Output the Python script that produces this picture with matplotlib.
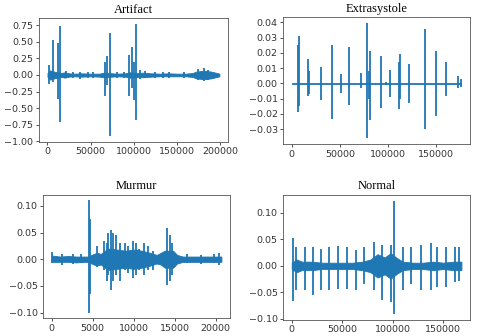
import matplotlib.pyplot as plt
from matplotlib.ticker import MultipleLocator

# Artifact: noise envelope + spikes
art_env_x = [0, 3000, 8000, 12000, 16000, 20000, 25000, 30000, 40000, 50000, 60000, 65000,
             75000, 80000, 90000, 95000, 105000, 110000, 120000, 130000, 140000, 150000,
             160000, 168000, 172000, 178000, 184000, 190000, 196000, 199000]
art_env_hi = [0.03, 0.07, 0.05, 0.04, 0.03, 0.04, 0.025, 0.02, 0.025, 0.02, 0.02, 0.035,
              0.025, 0.02, 0.025, 0.04, 0.03, 0.035, 0.025, 0.02, 0.025, 0.02, 0.02, 0.03,
              0.05, 0.06, 0.06, 0.05, 0.03, 0.02]
art_env_lo = [-0.03, -0.07, -0.05, -0.04, -0.03, -0.04, -0.025, -0.02, -0.025, -0.02, -0.025, -0.035,
              -0.025, -0.02, -0.025, -0.04, -0.03, -0.035, -0.025, -0.02, -0.02, -0.02, -0.02, -0.03,
              -0.05, -0.06, -0.06, -0.05, -0.03, -0.02]
art_spk_x = [2000, 6600, 11700, 14000, 22000, 30000, 38000, 47000, 53000, 66300, 69400, 72900,
             80000, 88000, 94800, 97500, 100600, 102200, 107000, 113000, 125000, 134000,
             141000, 158000, 174000, 181000, 186000]
art_spk_hi = [0.15, 0.52, 0.48, 0.74, 0.06, 0.04, 0.05, 0.04, 0.05, 0.20, 0.28, 0.63,
              0.05, 0.04, 0.30, 0.42, 0.20, 0.77, 0.07, 0.06, 0.05, 0.04,
              0.05, 0.04, 0.09, 0.10, 0.08]
art_spk_lo = [-0.14, -0.10, -0.36, -0.71, -0.05, -0.04, -0.06, -0.04, -0.05, -0.32, -0.15, -0.92,
              -0.05, -0.04, -0.32, -0.20, -0.38, -0.67, -0.06, -0.05, -0.04, -0.04,
              -0.04, -0.04, -0.08, -0.09, -0.07]

# Extrasystole
ext_env_x = [0, 176000]
ext_env_hi = [0.0005, 0.0005]
ext_env_lo = [-0.0005, -0.0005]
ext_spk_x = [6200, 7300, 17300, 18000, 30400, 41800, 51100, 59800, 71900, 78400, 79800,
             81200, 92600, 97800, 101900, 111600, 112600, 122000, 137900, 149600, 160000,
             172700, 175500]
ext_spk_hi = [0.025, 0.031, 0.016, 0.008, 0.011, 0.025, 0.006, 0.024, 0.007, 0.0395, 0.008,
              0.021, 0.018, 0.001, 0.009, 0.014, 0.019, 0.013, 0.036, 0.021, 0.014,
              0.005, 0.003]
ext_spk_lo = [-0.019, -0.015, -0.008, -0.007, -0.011, -0.023, -0.006, -0.014, -0.003, -0.036, -0.010,
              -0.024, -0.016, -0.001, -0.009, -0.017, -0.010, -0.013, -0.030, -0.021, -0.008,
              -0.003, -0.002]

# Murmur
mur_env_x = [0, 1000, 2000, 3000, 4000, 4400, 5000, 5500, 6000, 6500, 7000, 8000, 9000,
             10000, 11000, 12000, 12800, 13300, 13800, 14800, 15300, 16000, 17000, 18000,
             19000, 20000, 20700]
mur_env_hi = [0.007, 0.005, 0.006, 0.005, 0.005, 0.005, 0.009, 0.012, 0.010, 0.016, 0.020,
              0.018, 0.016, 0.018, 0.016, 0.012, 0.008, 0.012, 0.016, 0.016, 0.008, 0.005,
              0.005, 0.005, 0.005, 0.005, 0.005]
mur_env_lo = [-0.005, -0.005, -0.005, -0.006, -0.005, -0.005, -0.009, -0.012, -0.010, -0.016, -0.020,
              -0.018, -0.016, -0.018, -0.016, -0.012, -0.008, -0.010, -0.016, -0.016, -0.008, -0.005,
              -0.005, -0.005, -0.005, -0.005, -0.005]
mur_spk_x = [0, 1200, 2600, 3600, 4600, 4700, 5500, 6400, 6700, 6900, 7200, 7500, 7850, 8300,
             8900, 9300, 9900, 10300, 10700, 11300, 11700, 12300, 14100, 14400, 14700,
             16500, 18200, 19800, 20400]
mur_spk_hi = [0.013, 0.010, 0.009, 0.010, 0.110, 0.075, 0.025, 0.035, 0.030, 0.050, 0.055,
              0.050, 0.045, 0.030, 0.030, 0.025, 0.035, 0.030, 0.020, 0.030, 0.025, 0.015,
              0.058, 0.045, 0.030, 0.009, 0.008, 0.010, 0.011]
mur_spk_lo = [-0.008, -0.010, -0.009, -0.008, -0.100, -0.065, -0.015, -0.020, -0.040, -0.030,
              -0.057, -0.040, -0.030, -0.040, -0.020, -0.025, -0.035, -0.030, -0.020, -0.030,
              -0.020, -0.020, -0.048, -0.040, -0.030, -0.008, -0.009, -0.008, -0.010]

# Normal
nor_env_x = [0, 5000, 10000, 20000, 30000, 40000, 50000, 60000, 70000, 78000, 85000,
             92000, 98000, 104000, 110000, 120000, 130000, 140000, 150000, 160000, 168000]
nor_env_hi = [0.006, 0.012, 0.008, 0.008, 0.006, 0.006, 0.006, 0.006, 0.008, 0.012, 0.022,
              0.016, 0.024, 0.015, 0.008, 0.006, 0.006, 0.008, 0.006, 0.008, 0.008]
nor_env_lo = [-0.006, -0.012, -0.008, -0.008, -0.006, -0.006, -0.006, -0.006, -0.008, -0.012, -0.022,
              -0.016, -0.024, -0.015, -0.008, -0.006, -0.006, -0.008, -0.006, -0.008, -0.008]
nor_spk_x = [1000, 4400, 12700, 21100, 29500, 37200, 46200, 54600, 64000, 72000, 81400,
             89800, 98000, 101000, 110000, 118000, 128000, 137700, 143400, 152400, 161800, 166000]
nor_spk_hi = [0.053, 0.035, 0.035, 0.035, 0.032, 0.035, 0.038, 0.036, 0.030, 0.035, 0.045,
              0.040, 0.040, 0.123, 0.035, 0.035, 0.040, 0.043, 0.035, 0.035, 0.035, 0.036]
nor_spk_lo = [-0.067, -0.045, -0.045, -0.055, -0.045, -0.045, -0.043, -0.043, -0.045, -0.035, -0.045,
              -0.065, -0.068, -0.091, -0.045, -0.035, -0.045, -0.045, -0.040, -0.040, -0.030, -0.028]

panels = [
    ('Artifact', art_env_x, art_env_hi, art_env_lo, art_spk_x, art_spk_hi, art_spk_lo,
     [0.081, 0.578, 0.394, 0.368], 0.25),
    ('Extrasystole', ext_env_x, ext_env_hi, ext_env_lo, ext_spk_x, ext_spk_hi, ext_spk_lo,
     [0.590, 0.571, 0.389, 0.377], 0.01),
    ('Murmur', mur_env_x, mur_env_hi, mur_env_lo, mur_spk_x, mur_spk_hi, mur_spk_lo,
     [0.090, 0.053, 0.389, 0.367], 0.05),
    ('Normal', nor_env_x, nor_env_hi, nor_env_lo, nor_spk_x, nor_spk_hi, nor_spk_lo,
     [0.590, 0.048, 0.389, 0.372], 0.05),
]

color = '#1f77b4'
fig = plt.figure(figsize=(4.8, 3.36), dpi=100)
for title, ex, ehi, elo, sx, shi, slo, rect, ystep in panels:
    ax = fig.add_axes(rect)
    ax.fill_between(ex, elo, ehi, color=color, lw=0.6)
    ax.vlines(sx, slo, shi, color=color, lw=1.3)
    ax.margins(x=0.05, y=0.05)
    ax.yaxis.set_major_locator(MultipleLocator(ystep))
    ax.set_title(title, fontsize=9, family='Liberation Serif', pad=4)
    ax.tick_params(labelsize=6.8, length=2.5, width=0.6, pad=1.5, colors='#333333')
    for s in ax.spines.values():
        s.set_linewidth(0.6)
        s.set_color('#555555')

plt.savefig('out.png', dpi=100)
